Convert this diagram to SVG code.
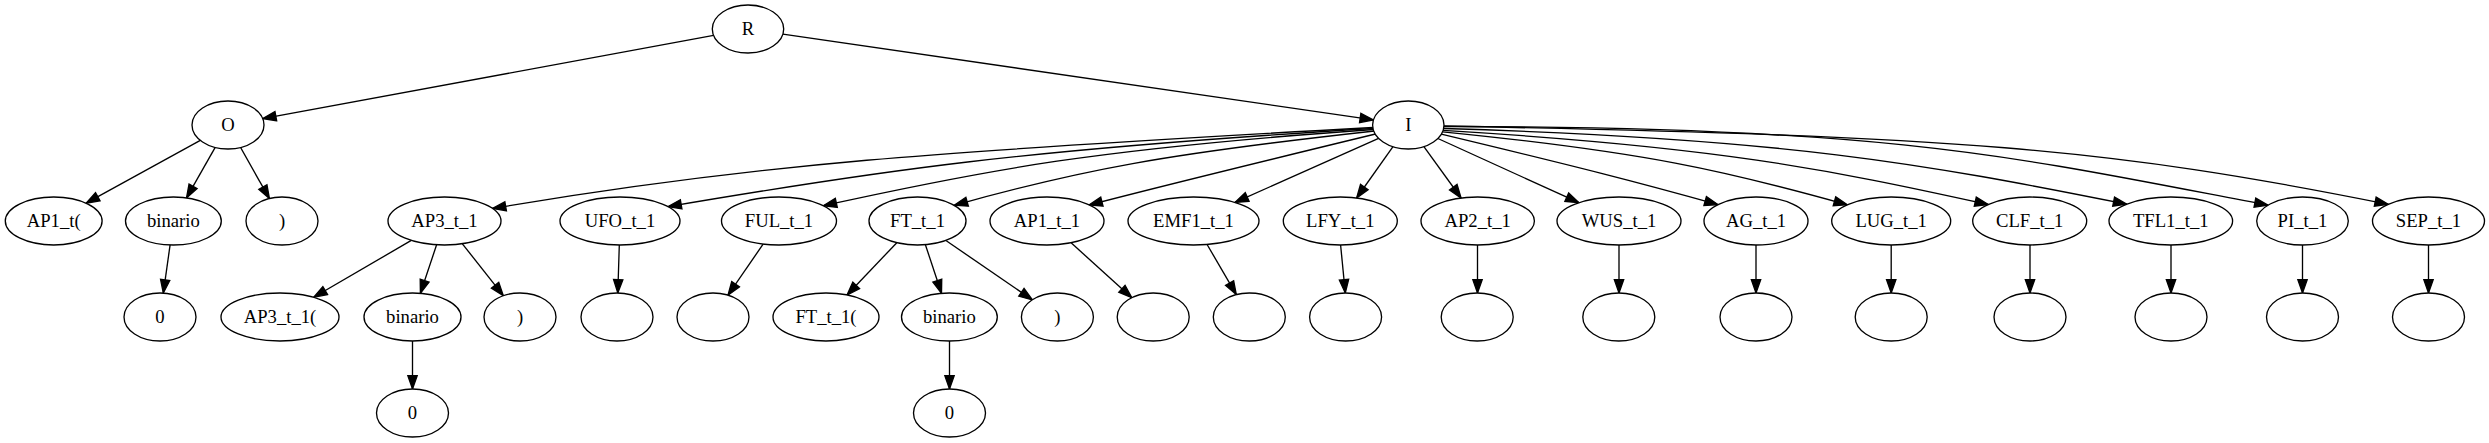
<svg xmlns="http://www.w3.org/2000/svg" width="2489" height="443" viewBox="0 0 2489 443">
<style>
.node ellipse { fill: #ffffff; stroke: #000000; stroke-width: 1.33; }
.node text { font-family: "Liberation Serif", "Times New Roman", serif; font-size: 18.67px; text-anchor: middle; fill: #000000; }
.edge { fill: none; stroke: #000000; stroke-width: 1.33; marker-end: url(#arrow); }
</style>
<defs>
<marker id="arrow" markerUnits="userSpaceOnUse" markerWidth="20" markerHeight="14" refX="13.33" refY="4.67" orient="auto" overflow="visible">
<path d="M0,0 L13.33,4.67 L0,9.33 Z" fill="#000000" stroke="#000000" stroke-width="1.33"/>
</marker>
</defs>
<rect x="0" y="0" width="2489" height="443" fill="#ffffff"/>
<g id="edges">
<path class="edge" d="M713.6,35.4 L262.7,118.6"/>
<path class="edge" d="M782.9,34.1 L1373.4,119.9"/>
<path class="edge" d="M200.3,140.3 L86.1,203.2"/>
<path class="edge" d="M215.2,147.4 L186.5,197.9"/>
<path class="edge" d="M240.6,147.5 L269.4,198.6"/>
<path class="edge" d="M170.1,244.9 L163.3,293.1"/>
<path class="edge" d="M411.3,240.4 L313.7,297.3"/>
<path class="edge" d="M436.6,244.8 L420.4,293.3"/>
<path class="edge" d="M462.4,243.8 L503.3,295.7"/>
<path class="edge" d="M412.5,341 L412.5,389"/>
<path class="edge" d="M619.3,245 L617.8,293"/>
<path class="edge" d="M763.1,244.1 L728,295.2"/>
<path class="edge" d="M896.8,242.7 L847,295"/>
<path class="edge" d="M925.4,244.7 L941.5,293.3"/>
<path class="edge" d="M945.9,240.5 L1032.4,299.9"/>
<path class="edge" d="M949.5,341 L949.5,389"/>
<path class="edge" d="M1071.1,242.8 L1131.8,297.7"/>
<path class="edge" d="M1207.1,244.5 L1236.3,294.6"/>
<path class="edge" d="M1340.6,245 L1345.3,293"/>
<path class="edge" d="M1477.5,245 L1477.5,293"/>
<path class="edge" d="M1619,245 L1619,293"/>
<path class="edge" d="M1756,245 L1756,293"/>
<path class="edge" d="M1891.2,245 L1891.2,293"/>
<path class="edge" d="M2030,245 L2030,293"/>
<path class="edge" d="M2171,245 L2171,293"/>
<path class="edge" d="M2302.5,245 L2302.5,293"/>
<path class="edge" d="M2428.5,245 L2428.5,293"/>
<path class="edge" d="M1378.6,138.3 L1235,202.4"/>
<path class="edge" d="M1393,146.7 L1356.6,198"/>
<path class="edge" d="M1423.9,146.6 L1461.1,198"/>
<path class="edge" d="M1437.9,138.5 L1578.9,202.7"/>
<path class="edge" d="M1373,127.5 C932.75,151.7 756.65,163.6 492.5,208.5"/>
<path class="edge" d="M1373,128.5 C1020.5,149.65 879.5,170.6 668,206.6"/>
<path class="edge" d="M1373.5,129.5 C1098.15,148.7 988.2,169.4 823.3,205.7"/>
<path class="edge" d="M1374.5,131 C1164.15,154.1 1080.2,170.05 954.3,205.3"/>
<path class="edge" d="M1375.5,134 C1232,168.8 1174.8,182.7 1089,205"/>
<path class="edge" d="M1441.3,134.1 C1579.65,167.3 1635,181.4 1718,204.6"/>
<path class="edge" d="M1442.5,131.8 C1644.9,152 1725.9,170.8 1847.3,204.8"/>
<path class="edge" d="M1443.1,130.4 C1715.7,146.8 1824.7,168.5 1988.3,204.5"/>
<path class="edge" d="M1443.8,128.5 C1785.25,138.7 1921.8,163.2 2126.7,204.2"/>
<path class="edge" d="M1444,126.5 C1897,126.5 2020.8,158.2 2268,205.2"/>
<path class="edge" d="M1444,126 C1963.4,136.4 2105,147.6 2388.3,204.3"/>
</g>
<g id="n_R" class="node"><ellipse cx="748" cy="29" rx="35.7" ry="24"/><text x="748" y="34.5">R</text></g>
<g id="n_O" class="node"><ellipse cx="228" cy="125" rx="36" ry="24"/><text x="228" y="130.5">O</text></g>
<g id="n_I" class="node"><ellipse cx="1408.3" cy="125" rx="35.7" ry="24"/><text x="1408.3" y="130.5">I</text></g>
<g id="n_AP1_t_open" class="node"><ellipse cx="53.7" cy="221" rx="48.4" ry="24"/><text x="53.7" y="226.5">AP1_t(</text></g>
<g id="n_O_binario" class="node"><ellipse cx="173.4" cy="221" rx="47.9" ry="24"/><text x="173.4" y="226.5">binario</text></g>
<g id="n_O_close" class="node"><ellipse cx="282" cy="221" rx="36" ry="24"/><text x="282" y="226.5">)</text></g>
<g id="n_AP3_t_1" class="node"><ellipse cx="444.5" cy="221" rx="56.5" ry="24"/><text x="444.5" y="226.5">AP3_t_1</text></g>
<g id="n_UFO_t_1" class="node"><ellipse cx="620" cy="221" rx="60" ry="24"/><text x="620" y="226.5">UFO_t_1</text></g>
<g id="n_FUL_t_1" class="node"><ellipse cx="779" cy="221" rx="57.5" ry="24"/><text x="779" y="226.5">FUL_t_1</text></g>
<g id="n_FT_t_1" class="node"><ellipse cx="917.5" cy="221" rx="48.5" ry="24"/><text x="917.5" y="226.5">FT_t_1</text></g>
<g id="n_AP1_t_1" class="node"><ellipse cx="1047" cy="221" rx="57" ry="24"/><text x="1047" y="226.5">AP1_t_1</text></g>
<g id="n_EMF1_t_1" class="node"><ellipse cx="1193.5" cy="221" rx="65.5" ry="24"/><text x="1193.5" y="226.5">EMF1_t_1</text></g>
<g id="n_LFY_t_1" class="node"><ellipse cx="1340.3" cy="221" rx="57" ry="24"/><text x="1340.3" y="226.5">LFY_t_1</text></g>
<g id="n_AP2_t_1" class="node"><ellipse cx="1477.7" cy="221" rx="56.7" ry="24"/><text x="1477.7" y="226.5">AP2_t_1</text></g>
<g id="n_WUS_t_1" class="node"><ellipse cx="1619" cy="221" rx="62" ry="24"/><text x="1619" y="226.5">WUS_t_1</text></g>
<g id="n_AG_t_1" class="node"><ellipse cx="1756" cy="221" rx="52" ry="24"/><text x="1756" y="226.5">AG_t_1</text></g>
<g id="n_LUG_t_1" class="node"><ellipse cx="1891.2" cy="221" rx="59.5" ry="24"/><text x="1891.2" y="226.5">LUG_t_1</text></g>
<g id="n_CLF_t_1" class="node"><ellipse cx="2029.7" cy="221" rx="57" ry="24"/><text x="2029.7" y="226.5">CLF_t_1</text></g>
<g id="n_TFL1_t_1" class="node"><ellipse cx="2170.8" cy="221" rx="61.8" ry="24"/><text x="2170.8" y="226.5">TFL1_t_1</text></g>
<g id="n_PI_t_1" class="node"><ellipse cx="2302.5" cy="221" rx="45.8" ry="24"/><text x="2302.5" y="226.5">PI_t_1</text></g>
<g id="n_SEP_t_1" class="node"><ellipse cx="2428.5" cy="221" rx="56" ry="24"/><text x="2428.5" y="226.5">SEP_t_1</text></g>
<g id="n_O_zero" class="node"><ellipse cx="160" cy="317" rx="36" ry="24"/><text x="160" y="322.5">0</text></g>
<g id="n_AP3_t_1_open" class="node"><ellipse cx="280" cy="317" rx="59" ry="24"/><text x="280" y="322.5">AP3_t_1(</text></g>
<g id="n_AP3_binario" class="node"><ellipse cx="412.5" cy="317" rx="48.5" ry="24"/><text x="412.5" y="322.5">binario</text></g>
<g id="n_AP3_close" class="node"><ellipse cx="520" cy="317" rx="36" ry="24"/><text x="520" y="322.5">)</text></g>
<g id="n_UFO_leaf" class="node"><ellipse cx="617" cy="317" rx="36" ry="24"/></g>
<g id="n_FUL_leaf" class="node"><ellipse cx="713" cy="317" rx="36" ry="24"/></g>
<g id="n_FT_t_1_open" class="node"><ellipse cx="826" cy="317" rx="53" ry="24"/><text x="826" y="322.5">FT_t_1(</text></g>
<g id="n_FT_binario" class="node"><ellipse cx="949.4" cy="317" rx="47.9" ry="24"/><text x="949.4" y="322.5">binario</text></g>
<g id="n_FT_close" class="node"><ellipse cx="1057.4" cy="317" rx="36" ry="24"/><text x="1057.4" y="322.5">)</text></g>
<g id="n_AP1_leaf" class="node"><ellipse cx="1153.2" cy="317" rx="36" ry="24"/></g>
<g id="n_EMF1_leaf" class="node"><ellipse cx="1249.3" cy="317" rx="36" ry="24"/></g>
<g id="n_LFY_leaf" class="node"><ellipse cx="1345.6" cy="317" rx="36" ry="24"/></g>
<g id="n_AP2_leaf" class="node"><ellipse cx="1477.2" cy="317" rx="36" ry="24"/></g>
<g id="n_WUS_leaf" class="node"><ellipse cx="1618.8" cy="317" rx="36" ry="24"/></g>
<g id="n_AG_leaf" class="node"><ellipse cx="1756" cy="317" rx="36" ry="24"/></g>
<g id="n_LUG_leaf" class="node"><ellipse cx="1891.2" cy="317" rx="36" ry="24"/></g>
<g id="n_CLF_leaf" class="node"><ellipse cx="2030" cy="317" rx="36" ry="24"/></g>
<g id="n_TFL1_leaf" class="node"><ellipse cx="2171" cy="317" rx="36" ry="24"/></g>
<g id="n_PI_leaf" class="node"><ellipse cx="2302.5" cy="317" rx="36" ry="24"/></g>
<g id="n_SEP_leaf" class="node"><ellipse cx="2428.5" cy="317" rx="36" ry="24"/></g>
<g id="n_AP3_zero" class="node"><ellipse cx="412.5" cy="413" rx="36" ry="24"/><text x="412.5" y="418.5">0</text></g>
<g id="n_FT_zero" class="node"><ellipse cx="949.5" cy="413" rx="36" ry="24"/><text x="949.5" y="418.5">0</text></g>
</svg>
